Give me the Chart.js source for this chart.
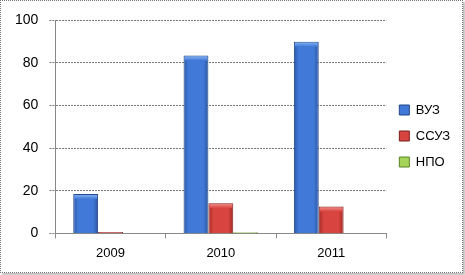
<!DOCTYPE html>
<html>
<head>
<meta charset="utf-8">
<script src="https://cdn.jsdelivr.net/npm/chart.js@4/dist/chart.umd.min.js"></script>
<style>
  html, body { margin: 0; padding: 0; background: #fff; }
  #wrap { position: absolute; left: 0; top: 0; width: 461px; height: 271px; border: 1px dotted #777; box-shadow: 2px 2px 2px #bbb; }
  canvas { position: absolute; left: 0; top: 0; }
</style>
</head>
<body>
<div id="wrap"><canvas id="graf" width="461" height="271"></canvas></div>
<script>
// data
var anos = ['2009', '2010', '2011'];
var vuz = [18.5, 83.5, 90];
var ssuz = [0.6, 14.2, 12.6];
var npo = [0, 0.5, 0];
var rotulos = ['ВУЗ', 'ССУЗ', 'НПО'];
var yTicks = [0, 20, 40, 60, 80, 100];

// borda escura, centro, borda direita, topo claro, contorno
var cores = {
    'ВУЗ': ['#2b58a8', '#4179d8', '#2a55a0', '#8cbaf5', '#24488a'],
    'ССУЗ': ['#a52c28', '#d8443f', '#a02925', '#f49490', '#7e1f1c'],
    'НПО': ['#78a834', '#a6d45a', '#72a030', '#d2f096', '#5a8424']
};

var series = [vuz, ssuz, npo];
var datasets = rotulos.map(function (r, i) {
    return {
        label: r,
        data: series[i],
        backgroundColor: cores[r][1],
        borderColor: cores[r][4],
        borderWidth: 1,
        categoryPercentage: 0.676,
        barPercentage: 1
    };
});

// gradiente horizontal em cada barra, mais o topo claro
var efeito3d = {
    id: 'efeito3d',
    beforeDatasetsDraw: function (chart) {
        var ctx = chart.ctx;
        chart.data.datasets.forEach(function (ds, i) {
            var c = cores[ds.label];
            chart.getDatasetMeta(i).data.forEach(function (el) {
                var g = ctx.createLinearGradient(el.x - el.width / 2, 0, el.x + el.width / 2, 0);
                g.addColorStop(0, c[0]);
                g.addColorStop(0.2, c[1]);
                g.addColorStop(0.8, c[1]);
                g.addColorStop(1, c[2]);
                // options são compartilhadas entre barras, copiar antes
                el.options = Object.assign({}, el.options, { backgroundColor: g });
            });
        });
    },
    afterDatasetsDraw: function (chart) {
        var ctx = chart.ctx;
        chart.data.datasets.forEach(function (ds, i) {
            var c = cores[ds.label];
            chart.getDatasetMeta(i).data.forEach(function (el) {
                var h = el.base - el.y;
                if (h < 4) return;
                var x0 = el.x - el.width / 2 + 1;
                var g = ctx.createLinearGradient(0, el.y, 0, el.y + 5);
                g.addColorStop(0, c[3]);
                g.addColorStop(1, c[1]);
                ctx.save();
                ctx.fillStyle = g;
                ctx.fillRect(x0, el.y + 1, el.width - 2, 4);
                ctx.restore();
            });
        });
    }
};

var fonte = "'Liberation Sans', Arial, sans-serif";

new Chart(document.getElementById('graf'), {
    type: 'bar',
    data: { labels: anos, datasets: datasets },
    plugins: [efeito3d],
    options: {
        responsive: false,
        animation: false,
        layout: { padding: { top: 3, right: 2, left: 3, bottom: 4 } },
        plugins: {
            tooltip: { enabled: false },
            legend: {
                position: 'right',
                labels: {
                    boxWidth: 10,
                    boxHeight: 10,
                    padding: 13,
                    color: '#000',
                    font: { family: fonte, size: 13 },
                    generateLabels: function (chart) {
                        return rotulos.map(function (r, i) {
                            return { text: r, fillStyle: cores[r][1], strokeStyle: cores[r][4], lineWidth: 1, datasetIndex: i };
                        });
                    }
                }
            }
        },
        scales: {
            x: {
                grid: { display: true, drawOnChartArea: false, tickLength: 5, color: '#888' },
                border: { display: true, color: '#888' },
                ticks: { color: '#000', font: { family: fonte, size: 13 }, padding: 7 }
            },
            y: {
                min: 0, max: 100,
                afterBuildTicks: function (axis) {
                    axis.ticks = yTicks.map(function (v) { return { value: v }; });
                },
                grid: { color: '#7a7a7a', tickLength: 6, tickBorderDash: [2, 1] },
                border: { display: true, color: '#888', dash: [2, 1] },
                ticks: { color: '#000', font: { family: fonte, size: 14 }, padding: 11 }
            }
        }
    }
});
</script>
</body>
</html>
